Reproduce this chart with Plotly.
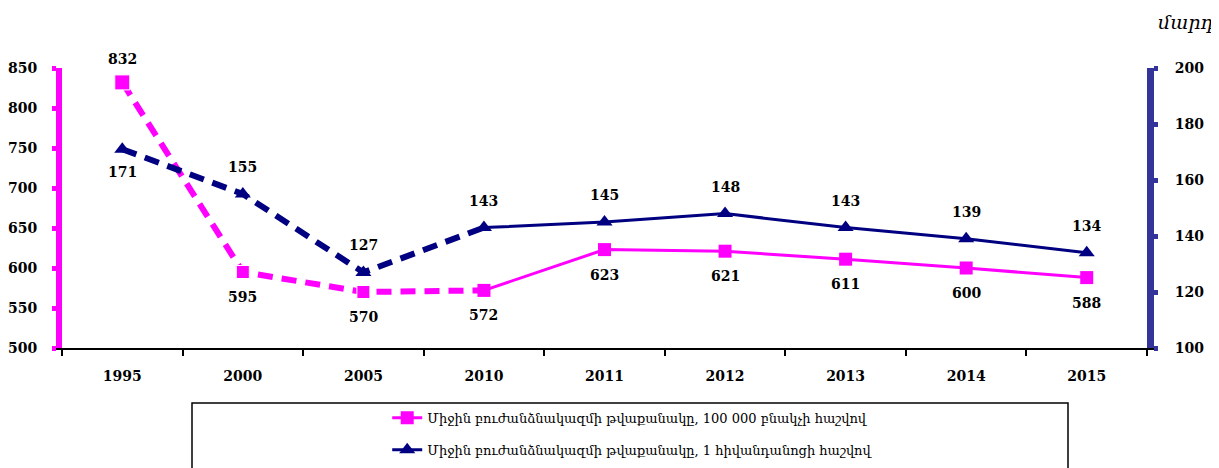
import plotly.graph_objects as go

years = ["1995", "2000", "2005", "2010", "2011", "2012", "2013", "2014", "2015"]
per_100k = [832, 595, 570, 572, 623, 621, 611, 600, 588]
per_hospital = [171, 155, 127, 143, 145, 148, 143, 139, 134]
pink_label_shift = [23] + [-25] * 8
blue_label_shift = [-23] + [27] * 8
name_pink = "Միջին բուժանձնակազմի թվաքանակը, 100 000 բնակչի հաշվով"
name_blue = "Միջին բուժանձնակազմի թվաքանակը, 1 հիվանդանոցի հաշվով"
unit = "մարդ"

PINK = "#FF00FF"
NAVY = "#000080"
AXBLUE = "#333399"
numfont = dict(family="DejaVu Serif", size=14, color="black", weight="bold")
split = 4

fig = go.Figure()

# dashed line segments (1995-2010)
fig.add_trace(go.Scatter(
    x=years[:split], y=per_100k[:split], mode="lines",
    line=dict(color=PINK, width=6, dash="15px,9px"),
    showlegend=False, hoverinfo="skip"))
fig.add_trace(go.Scatter(
    x=years[:split], y=per_hospital[:split], mode="lines", yaxis="y2",
    line=dict(color=NAVY, width=6, dash="15px,9px"),
    showlegend=False, hoverinfo="skip"))
# solid segments with markers (2010-2015)
fig.add_trace(go.Scatter(
    x=years[split - 1:], y=per_100k[split - 1:], mode="lines+markers",
    line=dict(color=PINK, width=3),
    marker=dict(symbol="square", size=13, color=PINK),
    name=name_pink, legendgroup="a"))
fig.add_trace(go.Scatter(
    x=years[split - 1:], y=per_hospital[split - 1:], mode="lines+markers", yaxis="y2",
    line=dict(color=NAVY, width=3),
    marker=dict(symbol="triangle-up", size=14, color=NAVY),
    name=name_blue, legendgroup="b"))
# markers on dashed part
fig.add_trace(go.Scatter(
    x=years[:split - 1], y=per_100k[:split - 1], mode="markers",
    marker=dict(symbol="square", size=[15, 13, 13], color=PINK, opacity=1),
    showlegend=False, hoverinfo="skip"))
fig.add_trace(go.Scatter(
    x=years[:split - 1], y=per_hospital[:split - 1], mode="markers", yaxis="y2",
    marker=dict(symbol="triangle-up", size=14, color=NAVY, opacity=1),
    showlegend=False, hoverinfo="skip"))

annotations = []
for i, (yv, s) in enumerate(zip(per_100k, pink_label_shift)):
    annotations.append(dict(x=i, y=yv, xref="x", yref="y", text=str(yv),
                            showarrow=False, yshift=s, font=numfont))
for i, (yv, s) in enumerate(zip(per_hospital, blue_label_shift)):
    annotations.append(dict(x=i, y=yv, xref="x", yref="y2", text=str(yv),
                            showarrow=False, yshift=s, font=numfont))
annotations.append(dict(text=unit, xref="paper", yref="paper",
                        x=(1216 - 62) / 1085, y=(348 - 22) / 280,
                        xanchor="right", yanchor="middle", showarrow=False,
                        font=dict(family="DejaVu Serif", size=19, style="italic", color="black")))

fig.update_layout(
    width=1211, height=460,
    margin=dict(l=54, r=72, t=60, b=120, autoexpand=False),
    paper_bgcolor="white", plot_bgcolor="white",
    xaxis=dict(type="category", categoryorder="array", categoryarray=years,
               range=[-0.5, 8.5], tickson="boundaries", ticks="outside",
               ticklen=6, tickwidth=2, tickcolor="black",
               showline=True, linecolor="black", linewidth=2,
               showgrid=False, zeroline=False, tickfont=numfont,
               ticklabelstandoff=14, automargin=False),
    yaxis=dict(range=[500, 850], dtick=50, showgrid=False, zeroline=False,
               showline=True, linecolor=PINK, linewidth=6,
               ticks="outside", ticklen=4, tickwidth=5, tickcolor=PINK,
               tickfont=numfont, ticklabelstandoff=12, automargin=False),
    yaxis2=dict(range=[100, 200], dtick=20, overlaying="y", side="right",
                showgrid=False, zeroline=False,
                showline=True, linecolor=AXBLUE, linewidth=7,
                ticks="outside", ticklen=4, tickwidth=5, tickcolor=AXBLUE,
                tickfont=numfont, ticklabelstandoff=14, automargin=False),
    legend=dict(x=0.526, xanchor="center", y=-0.196, yanchor="top",
                orientation="v", traceorder="grouped", tracegroupgap=12,
                font=dict(family="DejaVu Serif", size=13, color="black"),
                bgcolor="rgba(0,0,0,0)"),
    shapes=[dict(type="rect", xref="paper", yref="paper",
                 x0=(192 - 62) / 1085, x1=(1068 - 62) / 1085,
                 y0=(348 - 403) / 280, y1=-0.45, line=dict(color="black", width=1.5),
                 fillcolor="rgba(0,0,0,0)", layer="below")],
    annotations=annotations,
)

fig.write_html("out.html")
